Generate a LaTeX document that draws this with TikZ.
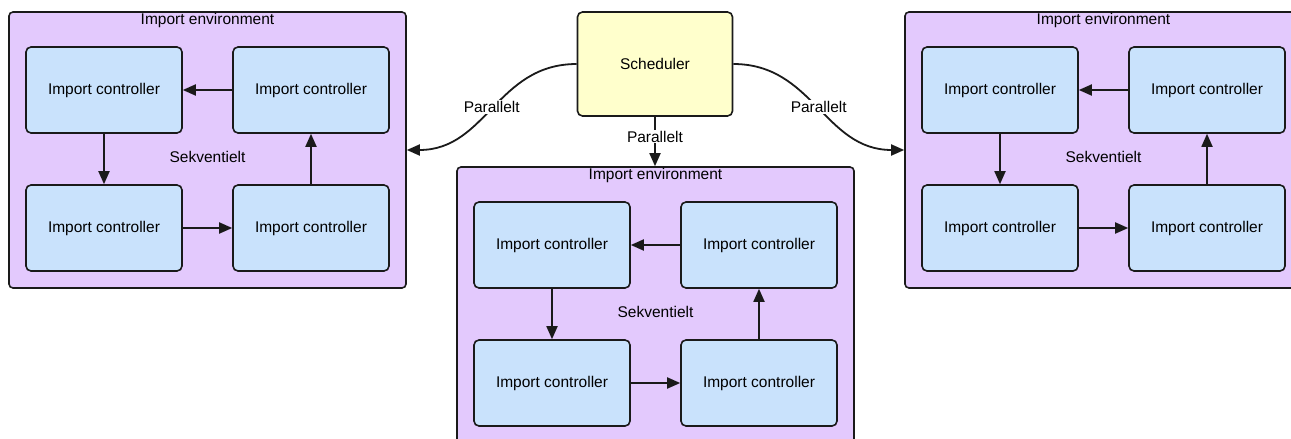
\documentclass[tikz,border=0pt]{standalone}
\usepackage{fontspec}
\setmainfont{Liberation Sans}
\usetikzlibrary{arrows.meta}
\definecolor{envfill}{HTML}{E3C9FD}
\definecolor{boxfill}{HTML}{C9E2FC}
\definecolor{schedfill}{HTML}{FFFFCC}
\definecolor{edge}{HTML}{1A1A1A}
\begin{document}
\begin{tikzpicture}[x=1pt,y=-1pt,
  every node/.style={font=\fontsize{15.5}{18}\selectfont},
  envbox/.style={draw=edge, line width=1.6pt, fill=envfill, rounded corners=4pt,
    minimum width=397pt, minimum height=276pt, inner sep=0pt},
  ctrlbox/.style={draw=edge, line width=1.6pt, fill=boxfill, rounded corners=5pt,
    minimum width=156pt, minimum height=86pt, inner sep=0pt},
  schedbox/.style={draw=edge, line width=1.6pt, fill=schedfill, rounded corners=5pt,
    minimum width=155pt, minimum height=104pt, inner sep=0pt},
  flow/.style={draw=edge, line width=1.8pt, -{Triangle[length=13pt,width=11pt]}},
  lbl/.style={fill=white, inner sep=1pt}
]
\useasboundingbox (0,0) rectangle (1291,439);
\clip (0,0) rectangle (1291,439);
\fill[white] (0,0) rectangle (1291,439);

\foreach \n/\x/\y in {L/9/12, M/457/167, R/905/12}{
  \node[envbox] (e\n) at (\x+198.5,\y+138) {};
  \node[inner sep=0pt, anchor=center] (t\n) at (\x+198.5,\y+8) {Import environment};
  \node[ctrlbox] (a\n) at (\x+95,\y+78) {Import controller};
  \node[ctrlbox] (b\n) at (\x+302,\y+78) {Import controller};
  \node[ctrlbox] (c\n) at (\x+95,\y+216) {Import controller};
  \node[ctrlbox] (d\n) at (\x+302,\y+216) {Import controller};
  \node (s\n) at (\x+198.5,\y+145) {Sekventielt};
  \draw[flow] (b\n) -- (a\n);
  \draw[flow] (a\n) -- (c\n);
  \draw[flow] (c\n) -- (d\n);
  \draw[flow] (d\n) -- (b\n);
}

\node[schedbox] (sch) at (655,64) {Scheduler};

\draw[flow] (sch.west) .. controls +(-80,0) and +(80,0) .. (eL.east)
  node[pos=0.5, lbl] {Parallelt};
\draw[flow] (sch.east) .. controls +(80,0) and +(-80,0) .. (eR.west)
  node[pos=0.5, lbl] {Parallelt};
\draw[flow] (sch.south) -- (sch.south |- eM.north) node[pos=0.4, lbl] {Parallelt};
\end{tikzpicture}
\end{document}
